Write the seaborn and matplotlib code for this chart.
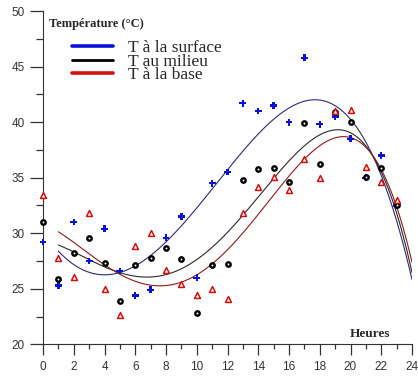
import numpy as np
import pandas as pd
import matplotlib
matplotlib.use("Agg")
import matplotlib.pyplot as plt
from matplotlib.lines import Line2D
import seaborn as sns

# hourly readings (°C)
hours = list(range(24))
t_surface = [29.2, 25.3, 31.0, 27.5, 30.4, 26.6, 24.4, 24.9, 29.6, 31.5, 26.0, 34.5,
             35.5, 41.7, 41.0, 41.5, 40.0, 45.8, 39.8, 40.5, 38.5, 35.0, 37.0, 32.5]
t_milieu = [31.0, 25.85, 28.2, 29.6, 27.35, 23.9, 27.1, 27.8, 28.7, 27.7, 22.8, 27.1,
            27.2, 34.8, 35.8, 35.9, 34.6, 39.9, 36.2, 40.9, 40.0, 35.1, 35.9, 32.5]
t_base = [33.4, 27.8, 26.1, 31.85, 25.0, 22.6, 28.85, 30.0, 26.7, 25.45, 24.4, 24.95,
          24.1, 31.8, 34.2, 35.1, 33.9, 36.65, 35.0, 41.0, 41.1, 36.0, 34.6, 33.0]
labels = ["T à la surface", "T au milieu", "T à la base"]

df = pd.DataFrame({"heure": hours * 3,
                   "temp": t_surface + t_milieu + t_base,
                   "serie": np.repeat(labels, len(hours))})

sns.set_style("ticks")
plt.rcParams["font.family"] = ["Liberation Sans", "DejaVu Sans"]

fig = plt.figure(figsize=(4.18, 3.76), dpi=100)
ax = fig.add_axes([43 / 418, 1 - 344.3 / 376, 369 / 418, 333.3 / 376])

marker_style = {
    labels[0]: dict(marker="P", s=24, color="#0a14d8", edgecolor="none"),
    labels[1]: dict(marker="o", s=10, facecolor="white", edgecolor="black", linewidth=1.7),
    labels[2]: dict(marker="^", s=18, facecolor="white", edgecolor="#d01010", linewidth=1.1),
}
curve_color = {labels[0]: "#2c2c72", labels[1]: "#2a2a2a", labels[2]: "#8e1a1a"}

# 4th-degree trend curves fitted on the readings
xs = np.linspace(1, 24, 200)
for lab in labels:
    sub = df[df["serie"] == lab]
    coef = np.polyfit(sub["heure"], sub["temp"], 4)
    sns.lineplot(x=xs, y=np.polyval(coef, xs), ax=ax, color=curve_color[lab], lw=0.8)

for lab in labels:
    sub = df[df["serie"] == lab]
    sns.scatterplot(data=sub, x="heure", y="temp", ax=ax, legend=False,
                    zorder=3, clip_on=False, **marker_style[lab])

ax.set_xlim(0, 24)
ax.set_ylim(20, 50)
ax.set_xticks(range(0, 25, 2))
ax.set_xticks(range(1, 24, 2), minor=True)
ax.set_yticks(range(20, 51, 5))
ax.set_yticks(np.arange(22.5, 50, 5), minor=True)
ax.set_xlabel("")
ax.set_ylabel("")
sns.despine(ax=ax)
ax.spines["left"].set_color("#333333")
ax.spines["bottom"].set_color("#333333")
ax.tick_params(axis="both", which="both", colors="#333333", labelsize=8.5,
               width=0.9, labelcolor="#333333")
ax.tick_params(axis="y", which="major", length=9.5, pad=3.5)
ax.tick_params(axis="y", which="minor", length=5)
ax.tick_params(axis="x", which="major", length=8, pad=4)
ax.tick_params(axis="x", which="minor", length=3.6)

ax.text(0.015, 0.96, "Température (°C)", transform=ax.transAxes, ha="left", va="center",
        fontsize=9, fontweight="bold", family=["Liberation Serif"])
ax.text(0.83, 0.032, "Heures", transform=ax.transAxes, ha="left", va="center",
        fontsize=9.5, fontweight="bold", family=["Liberation Serif"])

handles = [Line2D([0], [0], color="#0a14d8", lw=2.6),
           Line2D([0], [0], color="black", lw=2.0),
           Line2D([0], [0], color="#d01010", lw=2.6)]
ax.legend(handles, labels, loc="upper left", bbox_to_anchor=(0.078, 0.912), frameon=False,
          prop={"family": "Liberation Serif", "size": 12.5}, handlelength=2.4,
          handletextpad=0.85, labelspacing=-0.16, borderpad=0, borderaxespad=0)

fig.savefig("out.png", dpi=100)
